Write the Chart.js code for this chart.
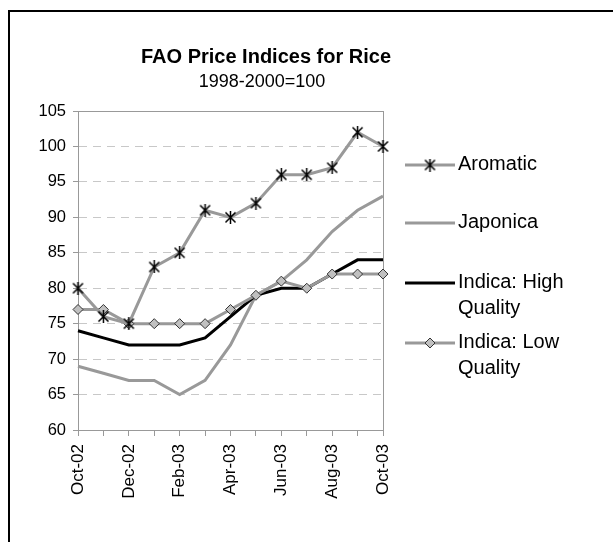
<!DOCTYPE html>
<html>
<head>
<meta charset="utf-8">
<script src="https://cdn.jsdelivr.net/npm/chart.js@4/dist/chart.umd.min.js"></script>
<style>
  html, body { margin: 0; padding: 0; background: #fff; }
  #wrap { width: 613px; height: 542px; position: relative; }
</style>
</head>
<body>
<div id="wrap"><canvas id="chart" width="613" height="542"></canvas></div>
<script>
const months = ["Oct-02", "Nov-02", "Dec-02", "Jan-03", "Feb-03", "Mar-03", "Apr-03",
  "May-03", "Jun-03", "Jul-03", "Aug-03", "Sep-03", "Oct-03"];
const aromatic = [80, 76, 75, 83, 85, 91, 90, 92, 96, 96, 97, 102, 100];
const japonica = [69, 68, 67, 67, 65, 67, 72, 79, 81, 84, 88, 91, 93];
const indicaHigh = [74, 73, 72, 72, 72, 73, 76, 79, 80, 80, 82, 84, 84];
const indicaLow = [77, 77, 75, 75, 75, 75, 77, 79, 81, 80, 82, 82, 82];
const seriesNames = ["Aromatic", "Japonica", "Indica: High Quality", "Indica: Low Quality"];
const chartTitle = "FAO Price Indices for Rice";
const chartSubtitle = "1998-2000=100";

const FONT = "'Liberation Sans', Arial, sans-serif";
const GRAY = "#999999";

// excel style star: an X with a vertical bar
function makeStar(size) {
  const c = document.createElement("canvas");
  c.width = size;
  c.height = size;
  const g = c.getContext("2d");
  g.strokeStyle = "#000";
  g.lineWidth = 1.5;
  g.beginPath();
  g.moveTo(1.5, 1.5); g.lineTo(size - 1.5, size - 1.5);
  g.moveTo(size - 1.5, 1.5); g.lineTo(1.5, size - 1.5);
  g.moveTo(size / 2, 0); g.lineTo(size / 2, size);
  g.stroke();
  return c;
}
const star = makeStar(13);

function drawDiamond(ctx, x, y, r) {
  ctx.beginPath();
  ctx.moveTo(x, y - r);
  ctx.lineTo(x + r, y);
  ctx.lineTo(x, y + r);
  ctx.lineTo(x - r, y);
  ctx.closePath();
  ctx.fillStyle = "#c0c0c0";
  ctx.fill();
  ctx.strokeStyle = "#333";
  ctx.lineWidth = 1;
  ctx.stroke();
}

const decor = {
  id: "decor",
  beforeDatasetsDraw(chart) {
    const { ctx, chartArea: a } = chart;
    ctx.save();
    ctx.strokeStyle = GRAY;
    ctx.lineWidth = 1;
    ctx.strokeRect(Math.round(a.left) + 0.5, Math.round(a.top) + 0.5,
      Math.round(a.right - a.left), Math.round(a.bottom - a.top));
    ctx.restore();
  },
  afterDraw(chart) {
    const ctx = chart.ctx;
    ctx.save();
    // outer frame
    ctx.strokeStyle = "#000";
    ctx.lineWidth = 2;
    ctx.beginPath();
    ctx.moveTo(9, 560);
    ctx.lineTo(9, 11);
    ctx.lineTo(620, 11);
    ctx.stroke();

    // titles
    ctx.fillStyle = "#000";
    ctx.textAlign = "center";
    ctx.textBaseline = "alphabetic";
    ctx.font = "bold 20px " + FONT;
    ctx.fillText(chartTitle, 266, 63);
    ctx.font = "18px " + FONT;
    ctx.fillText(chartSubtitle, 262, 87);

    // legend
    const rows = [165, 223, 283, 343];
    const colors = [GRAY, GRAY, "#000", GRAY];
    ctx.font = "20px " + FONT;
    ctx.textAlign = "left";
    seriesNames.forEach((name, i) => {
      const y = rows[i];
      ctx.strokeStyle = colors[i];
      ctx.lineWidth = 3;
      ctx.beginPath();
      ctx.moveTo(405, y);
      ctx.lineTo(455, y);
      ctx.stroke();
      if (i === 0) ctx.drawImage(star, 430 - 6.5, y - 6.5);
      if (i === 3) drawDiamond(ctx, 430, y, 5);
      ctx.fillStyle = "#000";
      const cut = name.lastIndexOf(" ");
      const parts = name.length > 12 ? [name.slice(0, cut), name.slice(cut + 1)] : [name];
      parts.forEach((p, j) => ctx.fillText(p, 458, y + 5 + j * 26));
    });
    ctx.restore();
  }
};

new Chart(document.getElementById("chart"), {
  type: "line",
  data: {
    labels: months,
    datasets: [
      {
        label: seriesNames[0], data: aromatic, order: 0,
        borderColor: GRAY, borderWidth: 3,
        pointStyle: star, pointRadius: 6
      },
      {
        label: seriesNames[1], data: japonica, order: 3,
        borderColor: GRAY, borderWidth: 3, pointRadius: 0
      },
      {
        label: seriesNames[2], data: indicaHigh, order: 2,
        borderColor: "#000", borderWidth: 3, pointRadius: 0
      },
      {
        label: seriesNames[3], data: indicaLow, order: 1,
        borderColor: GRAY, borderWidth: 3,
        pointStyle: "rectRot", pointRadius: 5,
        pointBackgroundColor: "#c0c0c0", pointBorderColor: "#333", pointBorderWidth: 1
      }
    ]
  },
  options: {
    responsive: false,
    animation: false,
    events: [],
    layout: { padding: { left: 28, right: 230, top: 111, bottom: 32 } },
    plugins: {
      legend: { display: false },
      title: { display: false },
      tooltip: { enabled: false }
    },
    elements: { line: { tension: 0 } },
    scales: {
      x: {
        offset: false,
        afterFit(scale) { scale.height = 80; },
        grid: {
          drawOnChartArea: false,
          tickLength: 6,
          tickColor: GRAY
        },
        border: { color: GRAY },
        ticks: {
          autoSkip: false,
          maxRotation: 90,
          minRotation: 90,
          padding: 8,
          color: "#000",
          font: { family: FONT, size: 17 },
          callback(val, i) { return i % 2 === 0 ? this.getLabelForValue(val) : ""; }
        }
      },
      y: {
        min: 60,
        max: 105,
        afterFit(scale) { scale.width = 50; },
        grid: {
          color: "#c8c8c8",
          tickLength: 5,
          tickColor: GRAY,
          tickBorderDash: []
        },
        border: { color: GRAY, dash: [8, 6] },
        ticks: {
          stepSize: 5,
          padding: 7,
          color: "#000",
          font: { family: FONT, size: 16.5 }
        }
      }
    }
  },
  plugins: [decor]
});
</script>
</body>
</html>
